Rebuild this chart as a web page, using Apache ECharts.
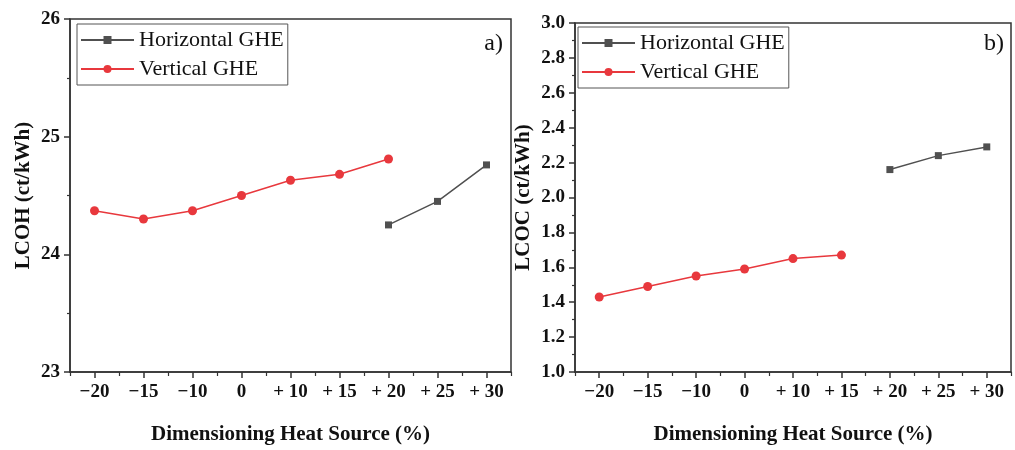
<!DOCTYPE html>
<html>
<head>
<meta charset="utf-8">
<script src="https://cdn.jsdelivr.net/npm/echarts@6/dist/echarts.min.js"></script>
<style>
  html, body { margin: 0; padding: 0; background: #fff; }
  #main { width: 1015px; height: 450px; }
</style>
</head>
<body>
<div id="main"></div>
<script>
// categories shared by both panels
const categories = ['\u221220', '\u221215', '\u221210', '0', '+ 10', '+ 15', '+ 20', '+ 25', '+ 30'];

// a) LCOH (ct/kWh)
const lcohHorizontal = [null, null, null, null, null, null, 24.25, 24.45, 24.76];
const lcohVertical = [24.37, 24.30, 24.37, 24.50, 24.63, 24.68, 24.81, null, null];

// b) LCOC (ct/kWh)
const lcocHorizontal = [null, null, null, null, null, null, 2.16, 2.24, 2.29];
const lcocVertical = [1.43, 1.49, 1.55, 1.59, 1.65, 1.67, null, null, null];

const FONT = 'Liberation Serif';
const AXIS_COLOR = '#333';
const GRAY = '#505050';
const RED = '#e8383d';

const chart = echarts.init(document.getElementById('main'));

function xAxes(gridIndex) {
  return [
    {
      type: 'category',
      gridIndex: gridIndex,
      data: categories,
      name: 'Dimensioning Heat Source (%)',
      nameLocation: 'middle',
      nameGap: 52,
      nameTextStyle: { fontFamily: FONT, fontWeight: 'bold', fontSize: 21, color: '#111' },
      axisLine: { lineStyle: { color: AXIS_COLOR, width: 1.5 } },
      axisTick: { show: true, alignWithLabel: true, length: 6, lineStyle: { color: AXIS_COLOR, width: 1.5 } },
      axisLabel: { fontFamily: FONT, fontWeight: 'bold', fontSize: 19, color: '#111', margin: 11, interval: 0 },
      splitLine: { show: false }
    },
    {
      // ticks half-way between categories
      type: 'category',
      gridIndex: gridIndex,
      position: 'bottom',
      data: categories,
      axisLine: { show: false },
      axisTick: { show: true, alignWithLabel: false, length: 4, lineStyle: { color: AXIS_COLOR, width: 1.2 } },
      axisLabel: { show: false },
      splitLine: { show: false }
    }
  ];
}

function yAxis(gridIndex, name, min, max, interval, fmt, nameGap) {
  return {
    type: 'value',
    gridIndex: gridIndex,
    min: min,
    max: max,
    interval: interval,
    name: name,
    nameLocation: 'middle',
    nameGap: nameGap,
    nameTextStyle: { fontFamily: FONT, fontWeight: 'bold', fontSize: 21, color: '#111' },
    axisLine: { show: true, lineStyle: { color: AXIS_COLOR, width: 1.5 } },
    axisTick: { show: true, length: 6, lineStyle: { color: AXIS_COLOR, width: 1.5 } },
    minorTick: { show: true, splitNumber: 2, length: 3, lineStyle: { color: AXIS_COLOR, width: 1.2 } },
    axisLabel: { fontFamily: FONT, fontWeight: 'bold', fontSize: 19, color: '#111', margin: 10, formatter: fmt },
    splitLine: { show: false }
  };
}

function legend(left, top) {
  return {
    left: left,
    top: top,
    orient: 'vertical',
    data: ['Horizontal GHE', 'Vertical GHE'],
    itemWidth: 53,
    itemHeight: 10,
    itemGap: 7,
    padding: [5, 4, 5, 3],
    borderColor: '#555',
    borderWidth: 1,
    textStyle: { fontFamily: FONT, fontSize: 22, color: '#111' }
  };
}

function lineSeries(name, data, color, symbol, size, axisIdx) {
  return {
    name: name,
    type: 'line',
    xAxisIndex: axisIdx,
    yAxisIndex: axisIdx / 2,
    data: data,
    symbol: symbol,
    symbolSize: size,
    showAllSymbol: true,
    connectNulls: false,
    lineStyle: { color: color, width: 1.5 },
    itemStyle: { color: color },
    animation: false
  };
}

chart.setOption({
  animation: false,
  backgroundColor: '#fff',
  title: [
    { text: 'a)', right: 507, top: 27, textStyle: { fontFamily: FONT, fontWeight: 'normal', fontSize: 24, color: '#111' } },
    { text: 'b)', right: 6, top: 27, textStyle: { fontFamily: FONT, fontWeight: 'normal', fontSize: 24, color: '#111' } }
  ],
  legend: [legend(77, 24), legend(578, 27)],
  grid: [
    { left: 70, top: 19, width: 441, height: 355, show: true, borderColor: AXIS_COLOR, borderWidth: 1.5 },
    { left: 575, top: 23, width: 436, height: 351, show: true, borderColor: AXIS_COLOR, borderWidth: 1.5 }
  ],
  xAxis: xAxes(0).concat(xAxes(1)),
  yAxis: [
    yAxis(0, 'LCOH (ct/kWh)', 23, 26, 1, v => v.toFixed(0), 36),
    yAxis(1, 'LCOC (ct/kWh)', 1, 3, 0.2, v => v.toFixed(1), 41)
  ],
  series: [
    lineSeries('Horizontal GHE', lcohHorizontal, GRAY, 'rect', 7, 0),
    lineSeries('Vertical GHE', lcohVertical, RED, 'circle', 9, 0),
    lineSeries('Horizontal GHE', lcocHorizontal, GRAY, 'rect', 7, 2),
    lineSeries('Vertical GHE', lcocVertical, RED, 'circle', 9, 2)
  ]
});
</script>
</body>
</html>
